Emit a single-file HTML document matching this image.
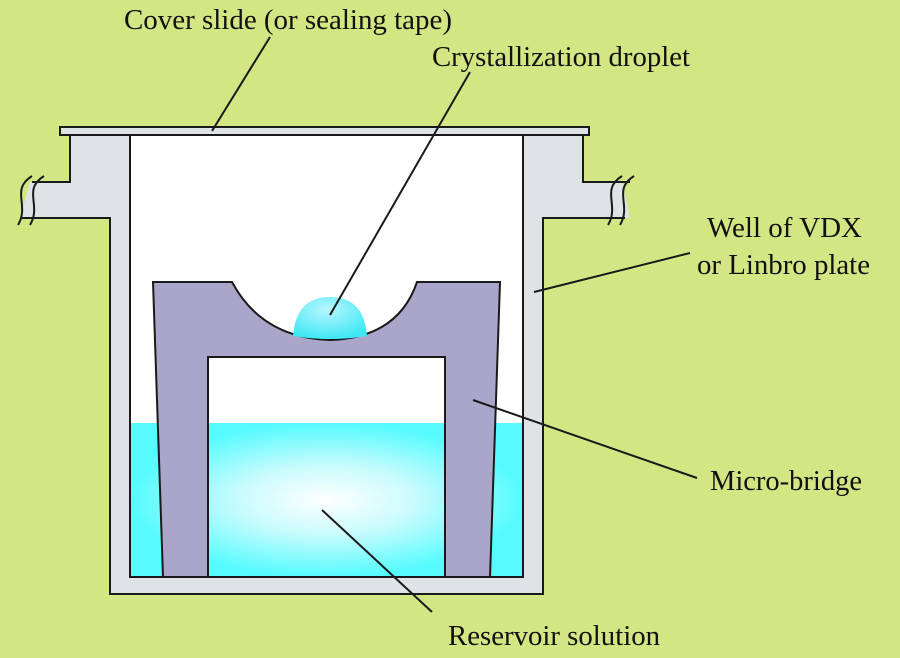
<!DOCTYPE html>
<html><head><style>
html,body{margin:0;padding:0;background:#d4e584;}
svg{display:block}
text{font-family:"Liberation Serif",serif;font-size:29px;fill:#111}
</style></head><body>
<svg width="900" height="658" viewBox="0 0 900 658">
<defs>
<radialGradient id="w" cx="0.5" cy="0.5" r="0.5">
<stop offset="0" stop-color="#ffffff"/><stop offset="0.45" stop-color="#c9fbfd"/><stop offset="1" stop-color="#55fbff"/>
</radialGradient>
<radialGradient id="d" cx="0.45" cy="0.3" r="0.7">
<stop offset="0" stop-color="#b8f6ff"/><stop offset="1" stop-color="#40e8f4"/>
</radialGradient>
</defs>
<rect width="900" height="658" fill="#d4e584"/>
<path d="M70 135 L70 182 L30 182 L20 218 L110 218 L110 594 L543 594 L543 218 L630 218 L622 182 L583 182 L583 135 Z" fill="#dee3e6"/>
<path d="M70 135 L70 182 L32 182 M22 218 L110 218 L110 594 L543 594 L543 218 L625 218 M630 182 L583 182 L583 135" fill="none" stroke="#1a1a1a" stroke-width="2"/>
<path d="M32 176 C10 190,30 205,18 225 M44 176 C22 190,42 205,30 225" fill="none" stroke="#1a1a1a" stroke-width="2"/>
<path d="M622 176 C600 190,620 205,608 225 M634 176 C612 190,632 205,620 225" fill="none" stroke="#1a1a1a" stroke-width="2"/>
<rect x="130" y="135" width="393" height="442" fill="#fff"/>
<rect x="130" y="423" width="393" height="154" fill="url(#w)"/>
<path d="M130 135 L130 577 L523 577 L523 135" fill="none" stroke="#1a1a1a" stroke-width="2"/>
<path d="M153 282 L232 282 Q262 338 330 340 Q398 338 417 282 L500 282 L490 577 L445 577 L445 357 L208 357 L208 577 L163 577 Z" fill="#aaa6c9" stroke="#1a1a1a" stroke-width="2"/>
<path d="M293 336 Q296 297 330 297 Q364 297 367 336 Q330 342 293 336 Z" fill="url(#d)"/>
<rect x="60" y="127" width="529" height="8" fill="#dee3e6" stroke="#1a1a1a" stroke-width="2"/>
<g stroke="#1a1a1a" stroke-width="2">
<line x1="270" y1="37" x2="212" y2="131"/>
<line x1="470" y1="72" x2="330" y2="315"/>
<line x1="690" y1="253" x2="534" y2="292"/>
<line x1="473" y1="400" x2="697" y2="478"/>
<line x1="322" y1="510" x2="432" y2="612"/>
</g>
<text x="124" y="29" textLength="328" lengthAdjust="spacingAndGlyphs">Cover slide (or sealing tape)</text>
<text x="432" y="66" textLength="258" lengthAdjust="spacingAndGlyphs">Crystallization droplet</text>
<text x="707" y="237" textLength="155" lengthAdjust="spacingAndGlyphs">Well of VDX</text>
<text x="697" y="274" textLength="173" lengthAdjust="spacingAndGlyphs">or Linbro plate</text>
<text x="710" y="490" textLength="152" lengthAdjust="spacingAndGlyphs">Micro-bridge</text>
<text x="448" y="645" textLength="212" lengthAdjust="spacingAndGlyphs">Reservoir solution</text>
</svg>
</body></html>
